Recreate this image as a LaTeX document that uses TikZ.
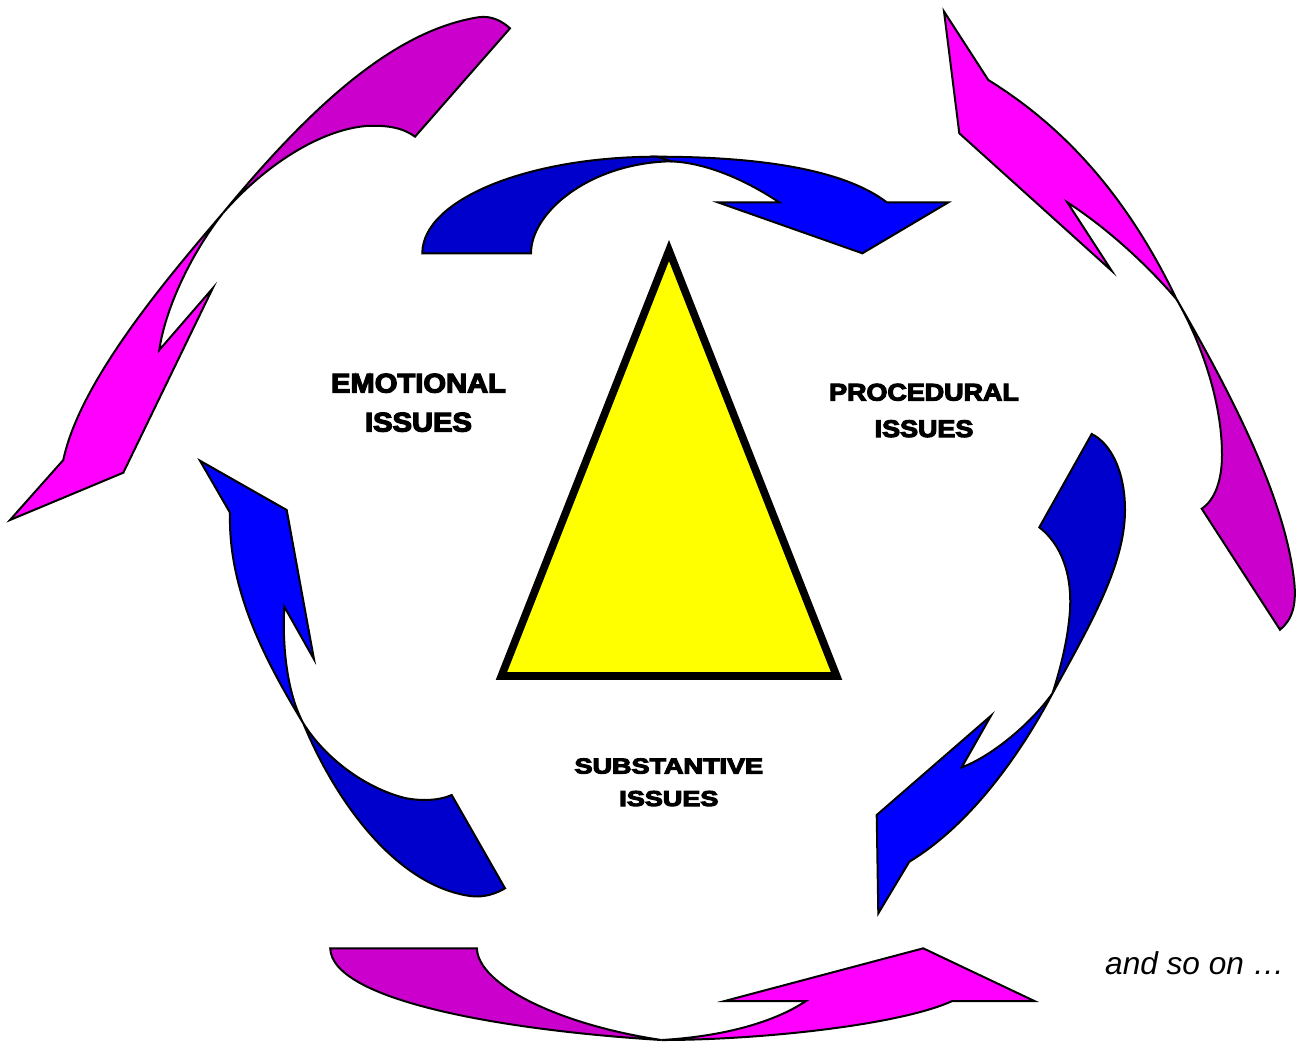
\documentclass[tikz,border=0pt]{standalone}
\usepackage{fontspec}
\usepackage{graphicx}
\setmainfont{Liberation Sans}
\newfontfamily\blk{Liberation Sans Bold}[FakeBold=4.5]
\definecolor{dblue}{HTML}{0000CC}
\definecolor{lblue}{HTML}{0000FF}
\definecolor{dmag}{HTML}{CC00CC}
\definecolor{lmag}{HTML}{FF00FF}
\definecolor{tri}{HTML}{FFFF00}
\tikzset{
  shp/.style={draw=black, line width=2pt},
  darkb/.style={shp, fill=dblue},
  lightb/.style={shp, fill=lblue},
  darkm/.style={shp, fill=dmag},
  lightm/.style={shp, fill=lmag},
  lbl/.style={anchor=base, inner sep=0pt},
}
\begin{document}
\begin{tikzpicture}[x=1pt, y=-1pt]
\useasboundingbox (0,0) rectangle (1298,1042);

% ---- top blue curved arrow ----
\draw[lightb] (656.8,156.7) .. controls (790,156.7) and (855,178) .. (886.7,202.3)
  -- (948.4,202.3) -- (862.4,253.3) -- (717.8,202.3) -- (779.2,202.3)
  .. controls (750,183) and (710,163) .. (670.9,161.3) -- cycle;
\draw[darkb] (422.3,253.3) .. controls (422.3,199.9) and (527.3,156.7) .. (656.8,156.7)
  -- (670.9,161.3) .. controls (590,163) and (531,212) .. (531,253.3) -- cycle;

% ---- left magenta arrow ----
\draw[darkm] (510,28.3) -- (415,136.7) .. controls (402,127) and (385,125) .. (366,126)
  .. controls (320,130) and (265,165) .. (223,213)
  .. controls (320,95) and (400,30) .. (478,17.3)
  .. controls (492,15) and (503,22) .. (510,28.3) -- cycle;
\draw[lightm] (223,213) .. controls (170,275) and (80,380) .. (63.3,460)
  -- (10,520) -- (123.3,472.7) -- (212.7,288.3) -- (159.3,350)
  .. controls (165,310) and (190,255) .. (223,213) -- cycle;

% ---- right magenta arrow ----
\draw[lightm] (944,11.5) -- (988.3,80) .. controls (1066,128) and (1128,198) .. (1176.7,299.5)
  .. controls (1150,268) and (1110,230) .. (1067.3,202.3)
  -- (1111.7,270.8) -- (959.3,133.3) -- cycle;
\draw[darkm] (1176.7,299.5) .. controls (1235,400) and (1285,500) .. (1294,580)
  .. controls (1297,605) and (1292,620) .. (1280,629.7) -- (1201.7,508.7)
  .. controls (1215,500) and (1222,480) .. (1222,455)
  .. controls (1222,400) and (1200,340) .. (1176.7,299.5) -- cycle;

% ---- left blue arrow ----
\draw[lightb] (200,460.7) -- (286.7,510) -- (314,659.3) -- (284.3,606.7)
  .. controls (282,650) and (288,695) .. (303.3,723.3)
  .. controls (265,660) and (228,590) .. (230,512.7) -- cycle;
\draw[darkb] (303.3,723.3) .. controls (335,800) and (395,885) .. (470,896)
  .. controls (485,898) and (497,893) .. (505,888.3) -- (451.7,795)
  .. controls (438,801) and (420,801) .. (405,798)
  .. controls (365,788) and (325,758) .. (303.3,723.3) -- cycle;

% ---- right blue arrow ----
\draw[darkb] (1091.7,434) -- (1039.3,527.3) .. controls (1062,545) and (1072,575) .. (1070,610)
  .. controls (1068,640) and (1060,670) .. (1052.5,693.3)
  .. controls (1090,625) and (1125,565) .. (1125,510)
  .. controls (1125,470) and (1110,443) .. (1091.7,434) -- cycle;
\draw[lightb] (1052.5,693.3) .. controls (1020,755) and (970,825) .. (909.3,861.7)
  -- (878.3,913.3) -- (876.7,815) -- (991,715.7) -- (961.7,767.3)
  .. controls (990,757) and (1030,725) .. (1052.5,693.3) -- cycle;

% ---- bottom magenta arrow ----
\draw[darkm] (330.2,948.3) -- (476.9,948.3) .. controls (478,985) and (560,1025) .. (661.5,1040)
  .. controls (500,1030) and (332,1000) .. (330.2,948.3) -- cycle;
\draw[lightm] (661.5,1040) .. controls (760,1040) and (900,1025) .. (952.2,1001)
  -- (1034.4,1001) -- (923.2,948.3) -- (724.7,1001) -- (806,1001)
  .. controls (770,1025) and (715,1037) .. (661.5,1040) -- cycle;

% ---- triangle ----
\draw[line width=7.7pt, fill=tri] (669,250.5) -- (836.6,676) -- (501.4,676) -- cycle;

% ---- labels ----
\node[lbl, font=\blk\fontsize{27}{30}\selectfont] (emo1) at (418.5,392.5) {\scalebox{1.08}[1]{EMOTIONAL}};
\node[lbl, font=\blk\fontsize{27}{30}\selectfont] (emo2) at (418.5,431.5) {\scalebox{1.08}[1]{ISSUES}};
\node[lbl, font=\blk\fontsize{24}{27}\selectfont] (pro1) at (924,400.5) {\scalebox{1.12}[1]{PROCEDURAL}};
\node[lbl, font=\blk\fontsize{24}{27}\selectfont] (pro2) at (924,437) {\scalebox{1.12}[1]{ISSUES}};
\node[lbl, font=\blk\fontsize{21.6}{25}\selectfont] (sub1) at (668.8,773.5) {\scalebox{1.25}[1]{SUBSTANTIVE}};
\node[lbl, font=\blk\fontsize{21.6}{25}\selectfont] (sub2) at (668.8,806) {\scalebox{1.25}[1]{ISSUES}};
\node[anchor=base west, inner sep=0pt, font=\itshape\fontsize{31.6}{36}\selectfont] (more) at (1105,974) {and so on …};
\end{tikzpicture}
\end{document}
